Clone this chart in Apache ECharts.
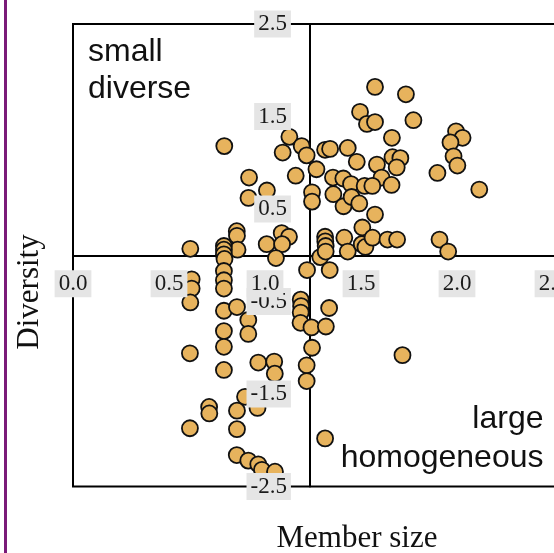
<!DOCTYPE html>
<html>
<head>
<meta charset="utf-8">
<script src="https://cdn.jsdelivr.net/npm/echarts@6/dist/echarts.min.js"></script>
<style>
html,body{margin:0;padding:0;background:#fff;}
#chart{width:554px;height:553px;}
</style>
</head>
<body>
<div id="chart"></div>
<script>
// Member size (x) values
var memberSize = [1.573,1.734,1.495,1.531,1.573,1.773,1.661,1.995,2.029,1.966,1.982,2.002,1.898,2.116,1.127,1.191,1.092,1.217,1.268,1.160,1.313,1.339,1.431,1.478,1.583,1.664,1.705,1.686,1.607,1.354,1.408,1.448,1.519,1.559,1.659,1.245,1.245,1.356,1.409,1.451,1.491,1.573,1.507,0.788,0.917,0.914,1.010,
  0.853,0.854,0.857,0.611,0.786,0.786,0.786,0.789,1.009,1.087,1.125,1.089,1.057,1.313,1.314,1.316,1.288,1.316,1.413,1.431,1.504,1.523,1.560,1.638,1.688,1.909,1.954,1.219,1.337,0.786,
  0.618,0.618,0.611,0.786,0.786,0.786,0.854,0.913,0.913,0.786,0.786,0.609,0.786,0.965,1.048,1.051,0.896,0.961,0.709,0.710,0.854,0.609,0.854,0.853,0.913,0.965,0.984,1.052,1.186,1.188,1.186,1.185,1.334,1.242,1.317,1.245,1.217,1.217,1.716,1.313];
// Diversity (y) values
var diversity = [1.82,1.74,1.55,1.42,1.44,1.46,1.27,1.34,1.27,1.22,1.07,0.97,0.89,0.71,1.28,1.18,1.11,1.08,0.93,0.86,1.14,1.15,1.16,1.01,0.98,1.06,1.05,0.95,0.84,0.84,0.83,0.77,0.75,0.75,0.76,0.68,0.58,0.66,0.53,0.63,0.56,0.44,0.30,1.18,0.84,0.62,0.70,
  0.26,0.21,0.06,0.07,0.10,0.06,0.01,-0.04,0.12,0.24,0.20,0.12,-0.03,0.20,0.15,0.10,-0.02,0.04,0.19,0.04,0.12,0.09,0.19,0.17,0.17,0.17,0.04,-0.16,-0.16,-0.17,
  -0.26,-0.36,-0.51,-0.27,-0.36,-0.60,-0.56,-0.70,-0.85,-0.82,-0.99,-1.06,-1.24,-1.16,-1.15,-1.28,-1.53,-1.65,-1.64,-1.71,-1.68,-1.87,-1.88,-2.16,-2.22,-2.26,-2.32,-2.34,-0.48,-0.55,-0.62,-0.73,-0.57,-0.78,-0.77,-1.00,-1.19,-1.36,-1.08,-1.98];

var xTickValues = [0, 0.5, 1.0, 1.5, 2.0, 2.5];
var yTickValues = [-2.5, -1.5, -0.5, 0.5, 1.5, 2.5];
var xCross = 1.234; // x position of the vertical divider
var yCross = 0;     // y position of the horizontal divider
var xTitle = 'Member size';
var yTitle = 'Diversity';
var quadrantTopLeft = ['small', 'diverse'];
var quadrantBottomRight = ['large', 'homogeneous'];

var points = memberSize.map(function (v, i) { return [v, diversity[i]]; });

var X_MIN = 0, X_MAX = 2.6, Y_MIN = -2.5, Y_MAX = 2.5;
var GRID_LEFT = 73, GRID_TOP = 24, PX_PER_X = 192, PX_PER_Y = 92.5;
var xOffset = -(xCross - X_MIN) * PX_PER_X;   // move left y-axis to the divider
var yOffset = -(yCross - Y_MIN) * PX_PER_Y;   // move bottom x-axis to the divider

var labelStyle = {
  fontFamily: 'Liberation Serif',
  fontSize: 23,
  lineHeight: 23,
  color: '#1a1a1a',
  backgroundColor: '#e5e5e5',
  padding: [2, 4, 2, 4]
};

var chart = echarts.init(document.getElementById('chart'), null, {renderer: 'canvas'});
chart.setOption({
  animation: false,
  backgroundColor: '#fff',
  grid: {
    left: GRID_LEFT, top: GRID_TOP,
    width: (X_MAX - X_MIN) * PX_PER_X,
    height: (Y_MAX - Y_MIN) * PX_PER_Y,
    show: true, borderColor: '#000', borderWidth: 2, backgroundColor: 'transparent',
    containLabel: false,
    outerBoundsMode: 'none'
  },
  xAxis: [
    {
      type: 'value', min: X_MIN, max: X_MAX, z: 1, position: 'bottom', offset: yOffset,
      axisLine: {show: true, onZero: false, lineStyle: {color: '#000', width: 2}},
      axisTick: {show: false}, axisLabel: {show: false}, splitLine: {show: false}
    },
    {
      type: 'value', min: X_MIN, max: X_MAX, z: 12, position: 'bottom', offset: yOffset,
      axisLine: {show: false, onZero: false},
      axisTick: {show: false}, splitLine: {show: false},
      axisLabel: Object.assign({
        show: true, margin: 15, customValues: xTickValues,
        showMinLabel: true, showMaxLabel: true,
        formatter: function (v) { return v.toFixed(1); }
      }, labelStyle)
    }
  ],
  yAxis: [
    {
      type: 'value', min: Y_MIN, max: Y_MAX, z: 1, position: 'left', offset: xOffset,
      axisLine: {show: true, onZero: false, lineStyle: {color: '#000', width: 2}},
      axisTick: {show: false}, axisLabel: {show: false}, splitLine: {show: false}
    },
    {
      type: 'value', min: Y_MIN, max: Y_MAX, z: 10, position: 'left', offset: xOffset,
      axisLine: {show: false, onZero: false},
      axisTick: {show: false}, splitLine: {show: false},
      axisLabel: Object.assign({
        show: true, margin: 19, customValues: yTickValues,
        showMinLabel: true, showMaxLabel: true,
        formatter: function (v) { return v.toFixed(1); }
      }, labelStyle)
    }
  ],
  series: [{
    type: 'scatter',
    xAxisIndex: 0, yAxisIndex: 0,
    z: 3,
    data: points,
    symbol: 'circle',
    symbolSize: 16,
    itemStyle: {color: '#E7B35D', borderColor: '#111', borderWidth: 1.8, opacity: 1},
    emphasis: {disabled: true}
  }],
  graphic: [
    {type: 'rect', shape: {x: 4, y: 0, width: 3, height: 553}, style: {fill: '#7a1b78'}, z: 20},
    {type: 'text', x: 30, y: 292, rotation: Math.PI / 2, z: 20,
      style: {text: yTitle, fontFamily: 'Liberation Serif', fontSize: 31, fill: '#111', align: 'center', verticalAlign: 'middle'}},
    {type: 'text', x: 357, y: 539, z: 20,
      style: {text: xTitle, fontFamily: 'Liberation Serif', fontSize: 31, fill: '#111', align: 'center', verticalAlign: 'middle'}},
    {type: 'text', x: 88, y: 52.5, z: 20,
      style: {text: quadrantTopLeft[0], fontFamily: 'Liberation Sans', fontSize: 32, fill: '#111', align: 'left', verticalAlign: 'middle'}},
    {type: 'text', x: 88, y: 89.5, z: 20,
      style: {text: quadrantTopLeft[1], fontFamily: 'Liberation Sans', fontSize: 32, fill: '#111', align: 'left', verticalAlign: 'middle'}},
    {type: 'text', x: 543.5, y: 419.5, z: 20,
      style: {text: quadrantBottomRight[0], fontFamily: 'Liberation Sans', fontSize: 32, fill: '#111', align: 'right', verticalAlign: 'middle'}},
    {type: 'text', x: 543.5, y: 458.5, z: 20,
      style: {text: quadrantBottomRight[1], fontFamily: 'Liberation Sans', fontSize: 32, fill: '#111', align: 'right', verticalAlign: 'middle'}}
  ]
});
</script>
</body>
</html>
